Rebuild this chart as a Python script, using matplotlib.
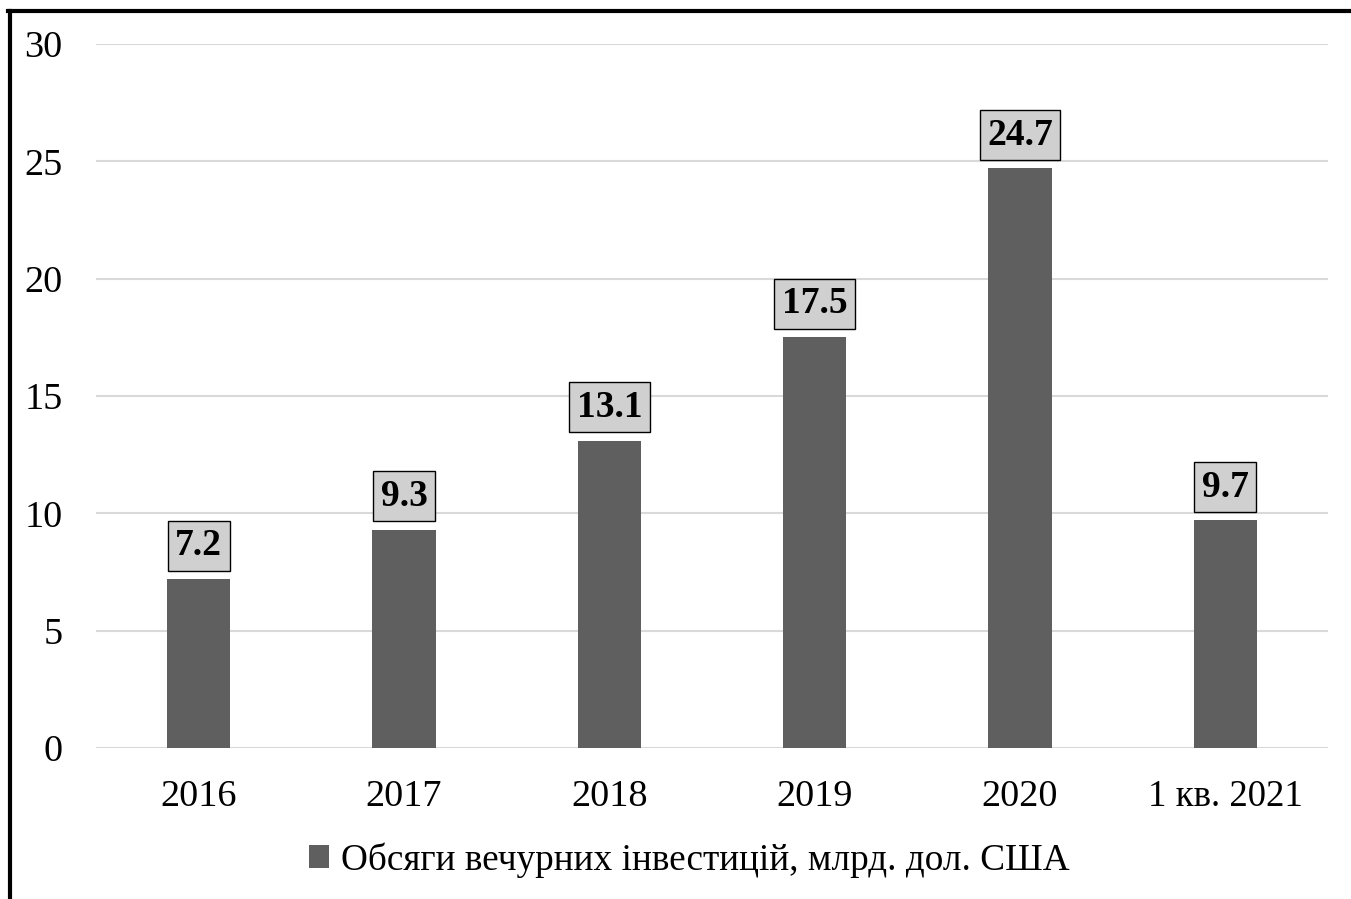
import matplotlib
matplotlib.use("Agg")
import matplotlib.pyplot as plt
from matplotlib.lines import Line2D
from matplotlib.patches import Patch

categories = ["2016", "2017", "2018", "2019", "2020", "1 кв. 2021"]
values = [7.2, 9.3, 13.1, 17.5, 24.7, 9.7]
series_name = "Обсяги вечурних інвестицій, млрд. дол. США"
yticks = [0, 5, 10, 15, 20, 25, 30]

plt.rcParams["font.family"] = ["Liberation Serif", "DejaVu Serif"]

fig = plt.figure(figsize=(13.51, 8.99), dpi=100)
ax = fig.add_axes([96 / 1351, 1 - 748 / 899, 1232 / 1351, 704 / 899])

bar_color = "#5f5f5f"
x = list(range(len(categories)))
ax.bar(x, values, width=0.31, color=bar_color, zorder=3)

ax.set_xlim(-0.5, len(categories) - 0.5)
ax.set_ylim(0, 30)
ax.set_yticks(yticks)
ax.set_yticklabels([str(t) for t in yticks], fontsize=27.5)
ax.set_xticks(x)
ax.set_xticklabels(categories, fontsize=27.5)
ax.get_xticklabels()[-1].set_fontsize(26.5)
ax.tick_params(axis="both", length=0)
ax.tick_params(axis="y", pad=24)
ax.tick_params(axis="x", pad=23)
for s in ax.spines.values():
    s.set_visible(False)
ax.grid(axis="y", color="#d9d9d9", linewidth=1.5, zorder=0)

for xi, v in zip(x, values):
    ax.annotate(f"{v:.1f}", xy=(xi, v), xytext=(0, 24), textcoords="offset points",
                ha="center", va="center", fontsize=27, fontweight="bold",
                bbox=dict(boxstyle="square,pad=0.2", facecolor="#d0d0d0",
                          edgecolor="black", linewidth=1.0), zorder=4)

handle = Patch(facecolor=bar_color, edgecolor="none")
fig.legend([handle], [series_name], loc="center", bbox_to_anchor=(689 / 1351, 1 - 860 / 899),
           frameon=False, fontsize=26.8, handlelength=0.55, handleheight=0.55, handletextpad=0.3)

# frame lines along the top and left edges of the figure
fig.add_artist(Line2D([9.5 / 1351, 9.5 / 1351], [0, 1 - 11 / 899], color="black", linewidth=3,
                      transform=fig.transFigure))
fig.add_artist(Line2D([8 / 1351, 1], [1 - 11 / 899, 1 - 11 / 899], color="black", linewidth=3,
                      transform=fig.transFigure))

fig.savefig("out.png", dpi=100)
